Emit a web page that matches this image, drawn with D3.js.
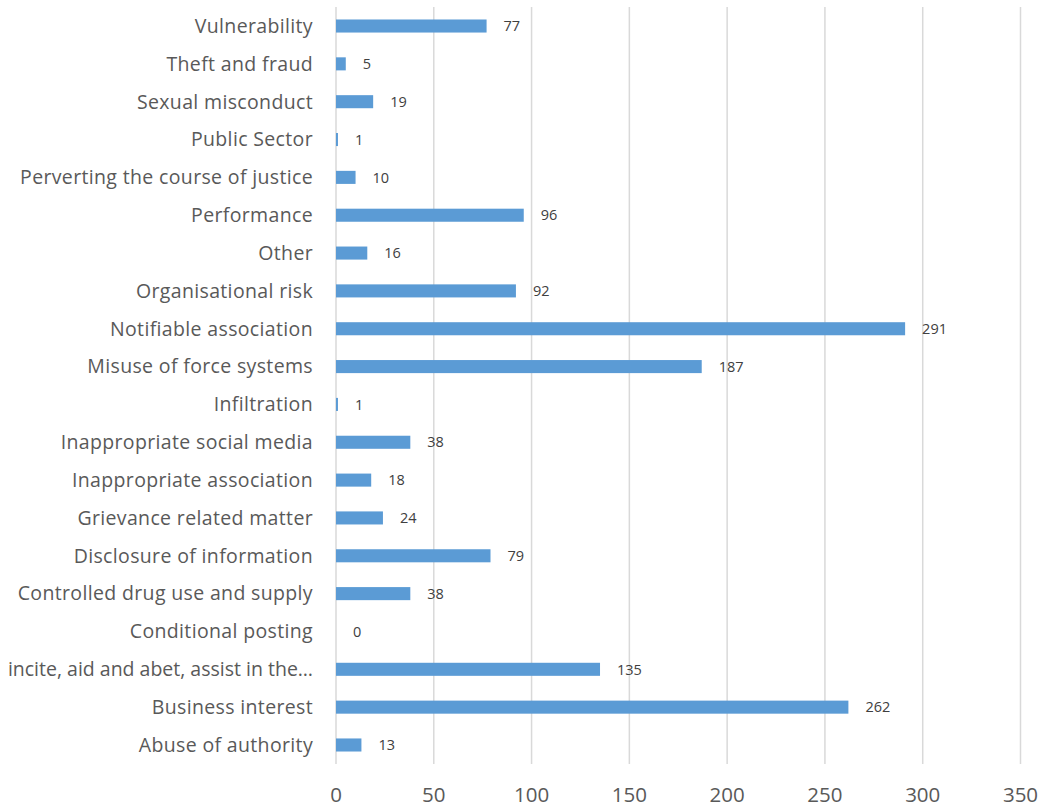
<!DOCTYPE html>
<html>
<head>
<meta charset="utf-8">
<script src="https://cdn.jsdelivr.net/npm/d3@7"></script>
<style>
  body { margin: 0; background: #fff; }
  text { font-family: "Open Sans", "Noto Sans", sans-serif; fill: #595959; }
</style>
</head>
<body>
<svg id="chart"></svg>
<script>
// categories listed top to bottom as shown
var categories = [
  'Vulnerability', 'Theft and fraud', 'Sexual misconduct', 'Public Sector',
  'Perverting the course of justice', 'Performance', 'Other', 'Organisational risk',
  'Notifiable association', 'Misuse of force systems', 'Infiltration',
  'Inappropriate social media', 'Inappropriate association', 'Grievance related matter',
  'Disclosure of information', 'Controlled drug use and supply', 'Conditional posting',
  'incite, aid and abet, assist in the\u2026', 'Business interest', 'Abuse of authority'
];
var counts = [77, 5, 19, 1, 10, 96, 16, 92, 291, 187, 1, 38, 18, 24, 79, 38, 0, 135, 262, 13];
var xTicks = [0, 50, 100, 150, 200, 250, 300, 350];

var width = 1046;
var height = 807;
var data = categories.map((c, i) => ({ name: c, value: counts[i] }));

var svg = d3.select('#chart')
    .attr('width', width)
    .attr('height', height);

var x = d3.scaleLinear()
          .domain([0, 350])
          .range([336, 1020.5]);

var y = d3.scaleBand()
          .domain(categories)
          .range([7, 764])
          .paddingInner(0.655)
          .paddingOuter(0.33);

// gridlines
svg.append('g')
  .selectAll('line')
  .data(xTicks)
  .enter()
  .append('line')
    .attr('x1', d => x(d))
    .attr('x2', d => x(d))
    .attr('y1', 7)
    .attr('y2', 764)
    .attr('stroke', '#d9d9d9')
    .attr('stroke-width', 1.5);

// x tick labels
svg.append('g')
  .selectAll('text')
  .data(xTicks)
  .enter()
  .append('text')
    .attr('x', d => x(d))
    .attr('y', 802)
    .attr('text-anchor', 'middle')
    .style('font-size', '20.5px')
    .text(d => d);

// bars
svg.append('g')
  .selectAll('rect')
  .data(data)
  .enter()
  .append('rect')
    .attr('x', x(0))
    .attr('y', d => y(d.name))
    .attr('width', d => x(d.value) - x(0))
    .attr('height', y.bandwidth())
    .attr('fill', '#5b9bd5');

// value labels
svg.append('g')
  .selectAll('text')
  .data(data)
  .enter()
  .append('text')
    .attr('x', d => x(d.value) + 17)
    .attr('y', d => y(d.name) + y.bandwidth() / 2)
    .attr('dy', '0.36em')
    .style('font-size', '14.5px')
    .style('fill', '#404040')
    .text(d => d.value);

// category labels
svg.append('g')
  .selectAll('text')
  .data(categories)
  .enter()
  .append('text')
    .attr('x', 313)
    .attr('y', d => y(d) + y.bandwidth() / 2)
    .attr('dy', '0.35em')
    .attr('text-anchor', 'end')
    .style('font-size', '19.5px')
    .style('letter-spacing', d => d.length > 32 ? '0px' : '0.35px')
    .text(d => d);
</script>
</body>
</html>
